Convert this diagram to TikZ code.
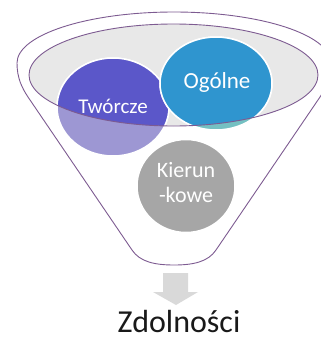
\documentclass[tikz,border=0pt]{standalone}
\usepackage{fontspec}
\setmainfont{Carlito}
\usetikzlibrary{shapes.geometric}
\definecolor{funnelline}{HTML}{7D5B91}
\definecolor{bowl}{HTML}{E8E8E8}
\definecolor{twL}{HTML}{9D97D3}
\definecolor{twD}{HTML}{5B57C9}
\definecolor{ogL}{HTML}{74C0C2}
\definecolor{ogD}{HTML}{2F95CF}
\definecolor{kiC}{HTML}{A6A6A6}
\definecolor{arrowgray}{HTML}{D9D9D9}
\begin{document}
\begin{tikzpicture}[x=1pt,y=-1pt,
  blob/.style={ellipse, inner sep=0pt, outer sep=0pt, draw=white, line width=1.5pt},
  lbl/.style={text=white, align=center, inner sep=0pt},
  outline/.style={draw=funnelline, line width=0.9pt}]
\useasboundingbox (0,0) rectangle (321,343);
\begin{scope}
\clip (0,0) rectangle (321,343);
% outer funnel
\draw[outline, line join=round]
  (132,250) -- (28,97) .. controls (22,88) and (17,78) .. (17,63)
  arc[start angle=180, end angle=360, x radius=157, y radius=51]
  .. controls (331,78) and (326,88) .. (320,97) -- (216,250)
  .. controls (208,262) and (193,265) .. (174,265)
  .. controls (155,265) and (140,262) .. (132,250);
% bowl
\fill[bowl] (173.5,75) ellipse [x radius=144.5, y radius=51];
% circles
\node[blob, fill=twL, minimum width=112pt, minimum height=98pt] (tw) at (113,107) {};
\begin{scope}
\clip (173.5,75) ellipse [x radius=144.5, y radius=51];
\filldraw[fill=twD, draw=white, line width=1.5pt] (tw.center) ellipse [x radius=56, y radius=49];
\end{scope}
\node[blob, fill=ogL, minimum width=112pt, minimum height=93pt] (og) at (216,83.5) {};
\begin{scope}
\clip (173.5,75) ellipse [x radius=144.5, y radius=51];
\filldraw[fill=ogD, draw=white, line width=1.5pt] (og.center) ellipse [x radius=56, y radius=46.5];
\end{scope}
\node[blob, fill=kiC, minimum width=98pt, minimum height=93pt] (ki) at (186,186) {};
% bowl rim
\draw[outline] (173.5,75) ellipse [x radius=144.5, y radius=51];
\end{scope}
% labels
\node[lbl, font=\fontsize{21}{25}\selectfont] at (113,106) {Twórcze};
\node[lbl, font=\fontsize{23}{27}\selectfont] at (217,82) {Ogólne};
\node[lbl, font=\fontsize{22}{25}\selectfont] at (186,183) {Kierun\\-kowe};
% arrow
\fill[arrowgray] (163,273) -- (188,273) -- (188,292) -- (198,292) -- (176,305) -- (153,292) -- (163,292) -- cycle;
\node[anchor=base, font=\fontsize{32}{38}\selectfont, text=black!90, inner sep=0pt] (out) at (179,332) {Zdolności};
\end{tikzpicture}
\end{document}
